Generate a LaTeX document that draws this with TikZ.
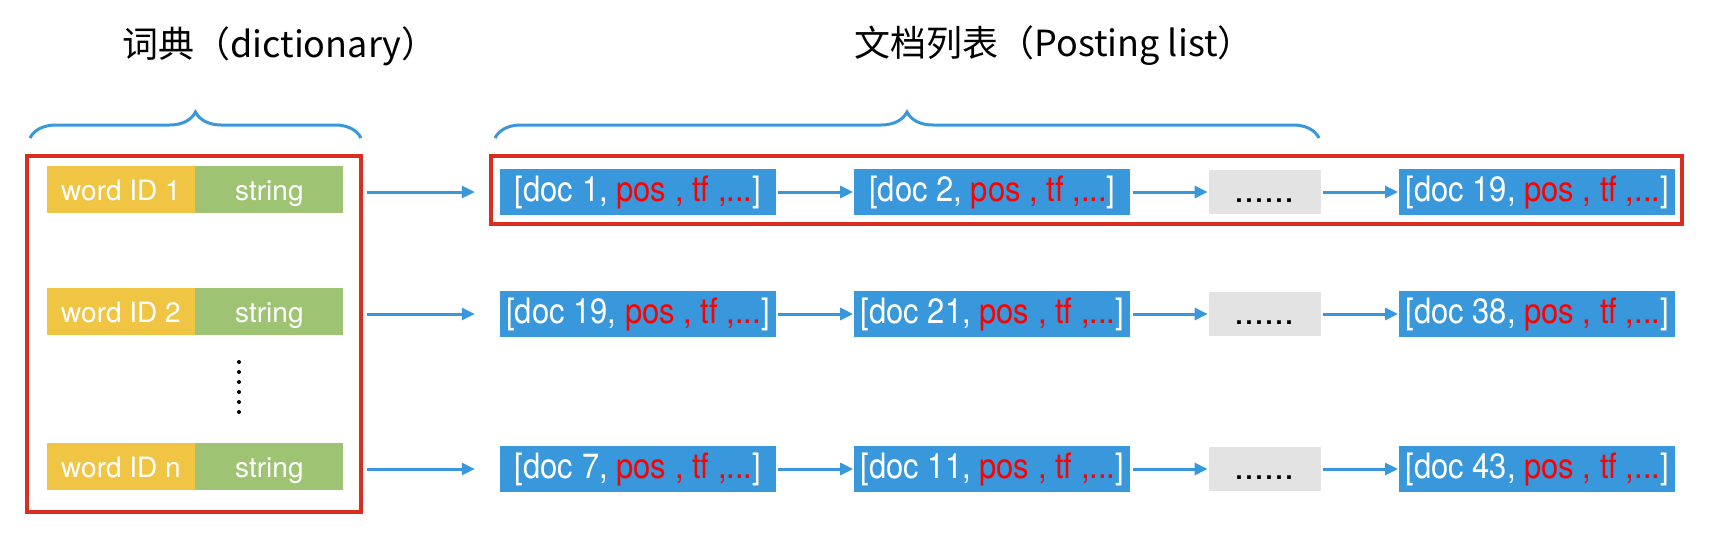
\documentclass[tikz,border=0pt]{standalone}
\usepackage{fontspec}
\setmainfont{TeX Gyre Heros}
\newfontfamily\cjkfont{Noto Sans CJK SC}
\newfontfamily\postfont{TeX Gyre Heros}[FakeStretch=0.885]
\usetikzlibrary{arrows.meta,chains,positioning,decorations.pathreplacing}

\definecolor{postblue}{RGB}{56,152,219}
\definecolor{idyellow}{RGB}{240,197,67}
\definecolor{strgreen}{RGB}{157,195,115}
\definecolor{moregray}{RGB}{227,227,227}
\definecolor{framered}{RGB}{217,45,32}

\newcommand{\posting}[1]{[doc #1, \textcolor{red}{pos , tf ,...}]}

\begin{document}
\begin{tikzpicture}[
    x=1pt,y=-1pt,
    link arrow/.style={
      draw=postblue,
      line width=3pt,
      -{Triangle[length=13pt,width=12pt]},
    },
    frame box/.style={draw=framered,line width=3.5pt},
    title brace/.style={
      draw=postblue,
      line width=3pt,
      decorate,
      decoration={brace,amplitude=26pt},
    },
    title node/.style={font=\cjkfont\fontsize{36}{42}\selectfont},
  ]
  \useasboundingbox (0,0) rectangle (1724,547);

  \node[title node] (dict-title) at (280,46) {词典（dictionary）};
  \node[title node] (post-title) at (1054,46) {文档列表（Posting list）};
  \path[title brace] (30,138) -- (361,138);
  \path[title brace] (495,138) -- (1319,138);

  \begin{scope}[
    id node/.style={
      fill=idyellow,
      text=white,
      minimum width=148pt,
      minimum height=47pt,
      text height=24pt,
      text depth=3pt,
      font=\fontsize{28}{32}\selectfont,
    },
    str node/.style={
      id node,
      fill=strgreen,
      right=0pt of #1,
    },
    ]
    \node[id node] (id-1) at (121,189.5) {word ID 1};
    \node[str node=id-1] (str-1) {string};
    \node[id node] (id-2) at (121,311.5) {word ID 2};
    \node[str node=id-2] (str-2) {string};
    \node[id node] (id-n) at (121,466.5) {word ID n};
    \node[str node=id-n] (str-n) {string};
    \foreach \k in {0,...,5}
      \fill (239,362+10*\k) circle (2pt);
    \draw[frame box] (27,156) rectangle (361,512);
  \end{scope}

  \tikzset{
    post node/.style={
      on chain,
      fill=postblue,
      text=white,
      minimum width=276pt,
      minimum height=46pt,
      font=\postfont\fontsize{35}{38}\selectfont,
    },
    more node/.style={
      on chain,
      fill=moregray,
      minimum width=112pt,
      minimum height=44pt,
      text height=21pt,
      text depth=0pt,
      font=\fontsize{36}{38}\selectfont,
    },
    every on chain/.style={join},
    every join/.style={link arrow,shorten <=2pt,shorten >=1pt},
  }
  \begin{scope}[start chain=going right,node distance=78pt]
    \node[post node] (post-1a) at (638,192) {\posting{1}};
    \node[post node] (post-1b) {\posting{2}};
    \node[more node] (post-1c) {......};
    \node[post node] (post-1d) {\posting{19}};
  \end{scope}
  \begin{scope}[start chain=going right,node distance=78pt]
    \node[post node] (post-2a) at (638,314) {\posting{19}};
    \node[post node] (post-2b) {\posting{21}};
    \node[more node] (post-2c) {......};
    \node[post node] (post-2d) {\posting{38}};
  \end{scope}
  \begin{scope}[start chain=going right,node distance=78pt]
    \node[post node] (post-3a) at (638,469) {\posting{7}};
    \node[post node] (post-3b) {\posting{11}};
    \node[more node] (post-3c) {......};
    \node[post node] (post-3d) {\posting{43}};
  \end{scope}
  \draw[frame box] (491,156) rectangle (1682,224);

  \draw[link arrow] ([xshift=23pt]str-1.east |- post-1a.west) -- ([xshift=-25pt]post-1a.west);
  \draw[link arrow] ([xshift=23pt]str-2.east |- post-2a.west) -- ([xshift=-25pt]post-2a.west);
  \draw[link arrow] ([xshift=23pt]str-n.east |- post-3a.west) -- ([xshift=-25pt]post-3a.west);
\end{tikzpicture}
\end{document}
